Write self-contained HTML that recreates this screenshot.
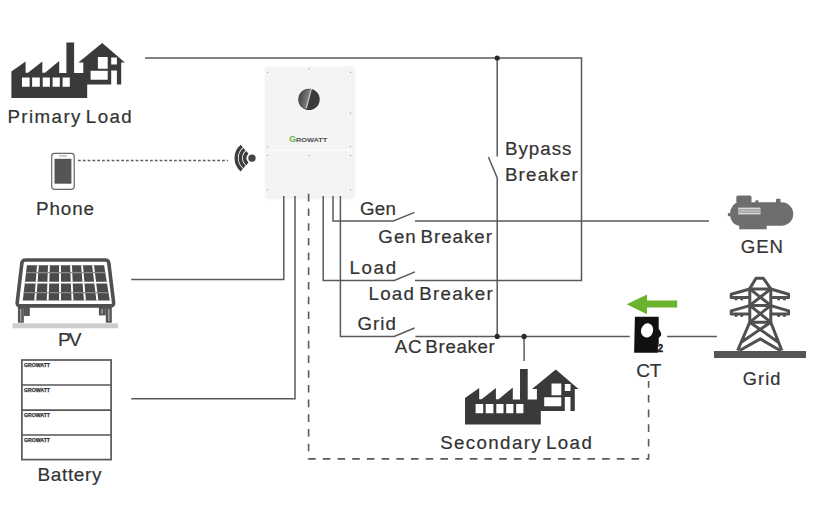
<!DOCTYPE html>
<html><head><meta charset="utf-8">
<style>
html,body{margin:0;padding:0;background:#fff;}
svg{display:block;}
text{font-family:"Liberation Sans",sans-serif;fill:#333;stroke:#333;stroke-width:0.2px;}
</style></head>
<body>
<svg width="814" height="531" viewBox="0 0 814 531">
<rect x="0" y="0" width="814" height="531" fill="#ffffff"/>

<!-- inverter -->
<defs>
<linearGradient id="kg" x1="0" y1="0" x2="1" y2="0.2">
<stop offset="0" stop-color="#3c3c3c"/><stop offset="0.75" stop-color="#9a9a9a"/><stop offset="1" stop-color="#bdbdbd"/>
</linearGradient>
<filter id="sh" x="-20%" y="-20%" width="140%" height="140%"><feGaussianBlur stdDeviation="1.5"/></filter>
</defs>
<rect x="266" y="68" width="88" height="130" fill="#e6e6e6" filter="url(#sh)"/>
<rect x="265" y="66.5" width="88" height="130" fill="#f4f4f4"/>
<line x1="268" y1="150.3" x2="352" y2="150.3" stroke="#fbfbfb" stroke-width="1.2"/>
<g fill="#a8a8a8">
<circle cx="267.5" cy="72.5" r="0.7"/><circle cx="350.5" cy="72.5" r="0.7"/><circle cx="309" cy="69" r="0.7"/>
<circle cx="350.5" cy="113" r="0.7"/>
<circle cx="267.5" cy="146.5" r="0.7"/><circle cx="350.5" cy="146.5" r="0.7"/>
<circle cx="267.5" cy="155.5" r="0.7"/><circle cx="350.5" cy="155.5" r="0.7"/><circle cx="309" cy="155.5" r="0.7"/>
<circle cx="267.5" cy="190" r="0.7"/><circle cx="350.5" cy="190" r="0.7"/>
</g>
<circle cx="309" cy="99.4" r="10.7" fill="#3a3a3a"/>
<clipPath id="kc"><path d="M309,88 L311.3,88.7 L306.1,110.5 L290,110.5 L290,88 Z"/></clipPath>
<circle cx="309" cy="99.4" r="10.2" fill="url(#kg)" clip-path="url(#kc)"/>
<path d="M311.4,88.8 L306.3,108.2" stroke="#c8c8c8" stroke-width="1.2"/>
<text x="289.3" y="142.3" font-size="8.6" font-weight="bold" style="fill:#62b83a;stroke:none">G</text>
<text x="296" y="141.8" font-size="6.2" font-weight="bold" textLength="31.3" lengthAdjust="spacingAndGlyphs" style="fill:#4e4e4e;stroke:none">ROWATT</text>

<!-- solid wires -->
<g fill="none" stroke="#5a5a5a" stroke-width="1.5">
  <path d="M145,58 H581.5 V280.5 H415"/>
  <path d="M497.2,58 V156.4 M488.4,157 L497.2,178 V336.3"/>
  <path d="M333,196 V220.9 H393.4 L414.5,212.4 M414.9,220.9 H709"/>
  <path d="M323.2,196 V280.5 H394.3 L415,271.9"/>
  <path d="M340.4,196 V336.4 H394.2 L414.5,328 M415.4,336.4 H629.7 M667,336.4 H717"/>
  <path d="M283.8,196 V279.6 H131.2"/>
  <path d="M295,196 V398.7 H131.2"/>
  <path d="M524.1,336.4 V361"/>
</g>
<g fill="#2a2a2a">
  <circle cx="497.2" cy="58" r="2.6"/>
  <circle cx="497.2" cy="336.4" r="2.6"/>
  <circle cx="524.1" cy="336.4" r="2.6"/>
</g>
<!-- dashed -->
<path d="M308.6,193.8 V458.9 H648.6 V381" fill="none" stroke="#5a5a5a" stroke-width="1.6" stroke-dasharray="7.6 7.1"/>
<path d="M78,160.5 H228" fill="none" stroke="#606060" stroke-width="1.5" stroke-dasharray="2.8 2"/>

<!-- factory primary -->
<path id="fac" fill="#3a3a3a" fill-rule="evenodd" d="M11.4,98 L11.4,71.5 L25.6,61.4 L25.6,72.8 L28,72.8 L42.3,61.6 L42.3,72.8 L45,72.8 L59.2,61 L59.2,73 L66.4,73 L66.4,42.6 L74.1,42.6 L74.1,73 L83.3,73 L83.3,62.4 L78.4,62.4 L102.2,43 L124.9,62.4 L121.2,62.4 L121.2,84.6 L116.9,84.6 L116.9,70.5 L111.2,70.5 L111.2,84.6 L87.2,84.6 L87.2,98 Z
M22,77.4 H29.6 V86.8 H22 Z M32.1,77.4 H39.8 V86.8 H32.1 Z M42.7,77.4 H49.9 V86.8 H42.7 Z M52.6,77.4 H59.8 V86.8 H52.6 Z M62.6,77.4 H69.8 V86.8 H62.6 Z
M97.9,57 H107.7 V68.7 H97.9 Z M111.2,57.6 H116.9 V64.4 H111.2 Z M90.6,70.7 H107.7 V79.7 H90.6 Z"/>
<use href="#fac" transform="translate(453.6,326.5)"/>


<!-- phone -->
<rect x="51.7" y="153.3" width="22.5" height="36" rx="2.8" fill="#fff" stroke="#666" stroke-width="1.2"/>
<rect x="54.5" y="158.8" width="16.9" height="24.9" fill="#555"/>
<line x1="59" y1="155.9" x2="67" y2="155.9" stroke="#888" stroke-width="0.9"/>
<!-- wifi -->
<g fill="none" stroke="#3e3e3e" stroke-width="3.4">
<path d="M241.81,146.07 A15.7,15.7 0 0 0 241.81,170.13"/>
<path d="M244.51,149.29 A11.5,11.5 0 0 0 244.51,166.91"/>
<path d="M247.41,152.35 A7.3,7.3 0 0 0 247.41,163.85"/>
</g>
<circle cx="252" cy="158.1" r="3.7" fill="#444"/>

<!-- PV panel -->
<g>
<rect x="12.5" y="323.3" width="105.5" height="5" fill="#cdcdcd"/>
<rect x="17.9" y="305" width="5.9" height="17.7" fill="#555"/>
<rect x="20.2" y="309" width="1.2" height="12.5" fill="#b0b0b0"/>
<rect x="23.8" y="305" width="6" height="11" fill="#555"/>
<rect x="105.8" y="305" width="6" height="17.7" fill="#555"/>
<rect x="108.2" y="309" width="1.3" height="12" fill="#b0b0b0"/>
<rect x="98.9" y="305" width="6.9" height="10.4" fill="#555"/>
<rect x="101.4" y="309" width="1.3" height="4.5" fill="#b0b0b0"/>
<path d="M25.3,260 H105.3 Q108.3,260 108.8,263 L113.6,302.5 Q114,305.9 110.6,305.9 H20.2 Q16.8,305.9 17.2,302.5 L21.9,263 Q22.4,260 25.3,260 Z" fill="#fff" stroke="#505050" stroke-width="3.6" stroke-linejoin="round"/>
<clipPath id="pvc"><path d="M26.9,265.2 L104.1,265.2 L109.8,300.6 L22.8,300.6 Z"/></clipPath>
<path d="M26.9,265.2 L104.1,265.2 L109.8,300.6 L22.8,300.6 Z" fill="#4b4b4b"/>
<g clip-path="url(#pvc)">
<path d="M38.00,264.2 L35.15,301.6 M48.99,264.2 L47.62,301.6 M59.98,264.2 L60.09,301.6 M70.97,264.2 L72.56,301.6 M81.96,264.2 L85.02,301.6 M92.95,264.2 L97.49,301.6 M15,282.6 H115" stroke="#fff" stroke-width="1.9"/>
<path d="M15,272.7 H115 M15,292.7 H115" stroke="#8a8a8a" stroke-width="1.3"/>
</g>
</g>

<!-- battery -->
<g fill="none" stroke="#575757" stroke-width="1.7">
<rect x="21.9" y="360" width="89.2" height="99.6"/>
<path d="M21.9,385 H111.1 M21.9,410.2 H111.1 M21.9,435 H111.1"/>
</g>
<g font-size="5.2" font-weight="bold" style="fill:#555">
<text x="24" y="366.8" textLength="26" lengthAdjust="spacingAndGlyphs" style="fill:#333;stroke:#333;stroke-width:0.25">GROWATT</text>
<text x="24" y="391.8" textLength="26" lengthAdjust="spacingAndGlyphs" style="fill:#333;stroke:#333;stroke-width:0.25">GROWATT</text>
<text x="24" y="417" textLength="26" lengthAdjust="spacingAndGlyphs" style="fill:#333;stroke:#333;stroke-width:0.25">GROWATT</text>
<text x="24" y="441.8" textLength="26" lengthAdjust="spacingAndGlyphs" style="fill:#333;stroke:#333;stroke-width:0.25">GROWATT</text>
</g>

<!-- GEN motor -->
<g fill="#6e6e6e">
<rect x="736.3" y="195.4" width="15.2" height="7.5" rx="1.5"/>
<rect x="755.4" y="200.3" width="3" height="3"/>
<rect x="776" y="198.8" width="4.5" height="4.5" rx="0.8"/>
<rect x="727.9" y="213" width="3" height="3.2"/>
<rect x="739.2" y="224" width="27.5" height="5.3"/>
<path d="M739.5,202.3 H781.5 A11.8,11.75 0 0 1 781.5,225.8 H739.5 A9.5,11.75 0 0 1 739.5,202.3 Z"/>
</g>
<rect x="738.2" y="207.6" width="22.3" height="6.8" fill="#d9d9d9"/>
<path d="M738.2,209.9 H760.5 M738.2,212.1 H760.5" stroke="#7a7a7a" stroke-width="0.9"/>

<!-- green arrow -->
<path d="M626.7,304.2 L647,294.4 V300.5 H677.2 V307.4 H647 V314.2 Z" fill="#6ab42d"/>

<!-- CT -->
<path d="M634.9,316.8 H658.7 V328.9 Q661,331 661.3,334 Q661.3,336.8 658.7,338 V344 H657.9 V352.7 H634.1 Z" fill="#111"/>
<ellipse cx="647.1" cy="330.4" rx="6" ry="7.2" fill="#fff" transform="rotate(15 647.1 330.4)"/>
<text x="657.4" y="352.4" font-size="10" font-weight="bold" style="fill:#222;stroke:#222;stroke-width:0.4">2</text>

<!-- tower -->
<g fill="none" stroke="#505050" stroke-width="3" stroke-linejoin="round">
  <path d="M749.6,288.9 L756,278.3 H763.4 L770.8,288.9 Z"/>
  <path d="M749.8,288.9 V322.2 M770.8,288.9 V322.2"/>
  <path d="M749.8,288.9 L770.8,305.4 M770.8,288.9 L749.8,305.4 M749.8,305.4 L770.8,322.2 M770.8,305.4 L749.8,322.2 M749.8,305.4 H770.8 M749.8,322.2 H770.8"/>
  <path d="M749.8,289 L731.2,294.3 V297.4 H749.8 M770.8,289 L788.6,294.3 V297.4 H770.8"/>
  <path d="M749.8,305.6 L731.2,310.9 V314 H749.8 M770.8,305.6 L788.6,310.9 V314 H770.8"/>
  <path d="M749.8,322.2 L737.6,350.5 M770.8,322.2 L781.8,350.5 M749.8,322.2 L778.6,342.4 M770.8,322.2 L740.9,342.4 M739.6,350.5 L760.3,338.9 L780.2,350.5"/>
</g>
<g fill="#505050">
  <circle cx="736" cy="298.9" r="1.6"/><circle cx="741.8" cy="298.9" r="1.6"/>
  <circle cx="778.6" cy="298.9" r="1.6"/><circle cx="784.4" cy="298.9" r="1.6"/>
  <circle cx="736" cy="315.5" r="1.6"/><circle cx="741.8" cy="315.5" r="1.6"/>
  <circle cx="778.6" cy="315.5" r="1.6"/><circle cx="784.4" cy="315.5" r="1.6"/>
</g>
<rect x="714" y="351" width="92" height="7" fill="#555"/>

<!-- texts -->
<text transform="translate(7.40,123.2) scale(1.04,1)" x="0" y="0" font-size="18" letter-spacing="1.368" word-spacing="-2.5">Primary Load</text>
<text x="36.10" y="214.9" font-size="18.8" letter-spacing="0.888">Phone</text>
<text x="58.00" y="345.8" font-size="19.2" letter-spacing="-1.95">PV</text>
<text x="37.50" y="480.6" font-size="19" letter-spacing="0.625">Battery</text>
<text transform="translate(504.90,155.4) scale(1.04,1)" x="0" y="0" font-size="18" letter-spacing="1.0">Bypass</text>
<text transform="translate(504.90,181) scale(1.04,1)" x="0" y="0" font-size="18" letter-spacing="1.178">Breaker</text>
<text transform="translate(359.95,215.2) scale(1.04,1)" x="0" y="0" font-size="18" letter-spacing="0.24">Gen</text>
<text transform="translate(378.35,242.7) scale(1.04,1)" x="0" y="0" font-size="18" letter-spacing="0.976" word-spacing="-2.5">Gen Breaker</text>
<text transform="translate(349.50,273.8) scale(1.04,1)" x="0" y="0" font-size="18" letter-spacing="1.571">Load</text>
<text transform="translate(368.40,299.6) scale(1.04,1)" x="0" y="0" font-size="18" letter-spacing="1.267" word-spacing="-2.5">Load Breaker</text>
<text transform="translate(357.55,330.3) scale(1.04,1)" x="0" y="0" font-size="18" letter-spacing="0.962">Grid</text>
<text transform="translate(394.80,352.7) scale(1.04,1)" x="0" y="0" font-size="18" letter-spacing="0.63" word-spacing="-2.5">AC Breaker</text>
<text x="740.85" y="252.8" font-size="18.6" letter-spacing="0.875">GEN</text>
<text x="636.25" y="376.5" font-size="19" letter-spacing="-0.15">CT</text>
<text x="742.65" y="384.6" font-size="18.2" letter-spacing="1.15">Grid</text>
<text transform="translate(440.15,449) scale(1.04,1)" x="0" y="0" font-size="18" letter-spacing="1.328" word-spacing="-2.5">Secondary Load</text>
</svg>
</body></html>
